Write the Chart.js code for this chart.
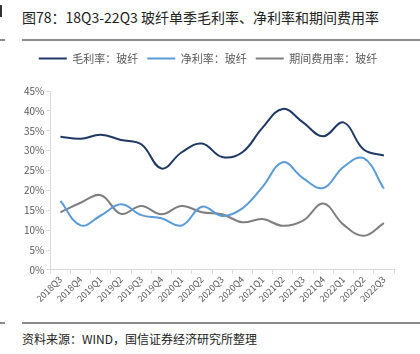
<!DOCTYPE html>
<html>
<head>
<meta charset="utf-8">
<script src="https://cdn.jsdelivr.net/npm/chart.js@4"></script>
<style>
  body { margin: 0; background: #fff; width: 420px; height: 354px; position: relative; overflow: hidden;
         font-family: "Noto Sans CJK SC", "Noto Sans", sans-serif; }
  #title { position: absolute; left: 22px; top: 7px; font-size: 14px; color: #222; white-space: nowrap; }
  .rule { position: absolute; height: 2px; background: #8c8c8c; }
  #src { position: absolute; left: 22px; top: 330px; font-size: 12px; color: #222; white-space: nowrap; }
  #mark { position: absolute; left: 0; top: 5px; width: 2px; height: 12px; background: #333; }
  #wrap { position: absolute; left: 0; top: 44px; width: 420px; height: 260px; }
</style>
</head>
<body>
<div id="mark"></div>
<div id="title">图78：18Q3-22Q3 玻纤单季毛利率、净利率和期间费用率</div>
<div class="rule" style="left:22px;top:39px;width:398px;"></div>
<div class="rule" style="left:0;top:39px;width:5px;"></div>
<div id="wrap"><canvas id="chart"></canvas></div>
<div class="rule" style="left:22px;top:322px;width:398px;"></div>
<div class="rule" style="left:0;top:322px;width:5px;"></div>
<div id="src">资料来源：WIND，国信证券经济研究所整理</div>
<script>
// 季度
const quarters = ['2018Q3', '2018Q4', '2019Q1', '2019Q2', '2019Q3', '2019Q4', '2020Q1', '2020Q2', '2020Q3',
  '2020Q4', '2021Q1', '2021Q2', '2021Q3', '2021Q4', '2022Q1', '2022Q2', '2022Q3'];

// 毛利率 / 净利率 / 期间费用率 (%)
const grossMargin = [33.5, 33.0, 34.0, 32.7, 31.6, 25.5, 29.6, 31.8, 28.4, 29.6, 35.8, 40.5, 37.1, 33.6, 37.1, 30.3, 28.8];
const netMargin = [17.4, 11.2, 13.7, 16.5, 13.8, 13.0, 11.2, 15.9, 13.6, 15.5, 20.9, 27.1, 23.1, 20.6, 25.9, 28.1, 20.5];
const expenseRatio = [14.5, 16.9, 18.8, 14.1, 16.1, 14.0, 16.1, 14.5, 14.0, 12.0, 12.8, 11.1, 12.4, 16.7, 11.4, 8.6, 11.8];

const seriesNames = ['毛利率：玻纤', '净利率：玻纤', '期间费用率：玻纤'];
const yTicks = [0, 5, 10, 15, 20, 25, 30, 35, 40, 45];

const FONT = '"Noto Sans CJK SC", "Noto Sans", sans-serif';

function lineSet(label, data, color) {
  return {
    label,
    data,
    borderColor: color,
    backgroundColor: color,
    borderWidth: 2,
    pointRadius: 0,
    fill: false,
    tension: 0.4
  };
}

// 图例与绘图区之间留白
const legendGap = {
  id: 'legendGap',
  beforeInit(chart) {
    const fit = chart.legend.fit;
    chart.legend.fit = function () {
      fit.bind(chart.legend)();
      this.height += 17;
    };
  }
};

new Chart(document.getElementById('chart'), {
  type: 'line',
  data: {
    labels: quarters,
    datasets: [
      lineSet(seriesNames[0], grossMargin, '#1f3864'),
      lineSet(seriesNames[1], netMargin, '#5b9bd5'),
      lineSet(seriesNames[2], expenseRatio, '#7f7f7f')
    ]
  },
  plugins: [legendGap],
  options: {
    responsive: true,
    maintainAspectRatio: false,
    animation: false,
    layout: { padding: { left: 22, right: 26, top: 0, bottom: 0 } },
    plugins: {
      legend: {
        labels: {
          color: '#595959',
          font: { family: FONT, size: 11 },
          usePointStyle: true,
          pointStyle: 'line',
          pointStyleWidth: 28,
          boxHeight: 2,
          padding: 9
        }
      },
      tooltip: { enabled: false }
    },
    scales: {
      x: {
        offset: true,
        grid: { offset: true, drawOnChartArea: false, drawTicks: true, tickLength: 4, color: '#d9d9d9' },
        border: { color: '#d9d9d9' },
        ticks: { color: '#595959', font: { family: FONT, size: 9 }, maxRotation: 45, minRotation: 45, autoSkip: false, padding: 0 }
      },
      y: {
        min: 0,
        max: 45,
        afterBuildTicks: axis => { axis.ticks = yTicks.map(v => ({ value: v })); },
        grid: { drawOnChartArea: false, drawTicks: true, tickLength: 4, color: '#d9d9d9' },
        border: { color: '#d9d9d9' },
        ticks: { color: '#595959', font: { family: FONT, size: 10 }, padding: 2, callback: v => v + '%' }
      }
    }
  }
});
</script>
</body>
</html>
